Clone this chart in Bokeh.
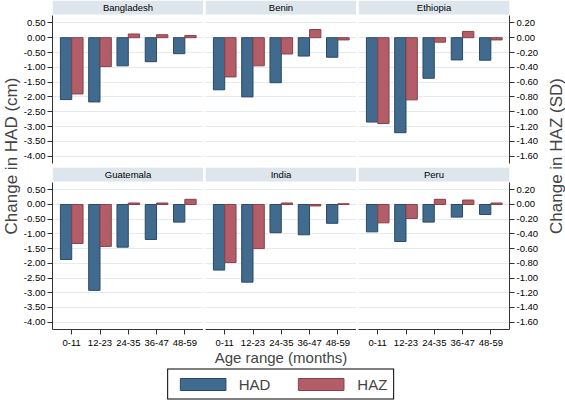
from bokeh.plotting import figure
from bokeh.models import (Range1d, LinearAxis, FixedTicker, BoxAnnotation, Label, Title,
                          Legend, LegendItem, GridBox, ColumnDataSource, Grid, PrintfTickFormatter)
from bokeh.transform import dodge
from bokeh.embed import file_html
from bokeh.resources import INLINE

# ---------------- data ----------------
COUNTRIES = ["Bangladesh", "Benin", "Ethiopia", "Guatemala", "India", "Peru"]
AGE_RANGES = ["0-11", "12-23", "24-35", "36-47", "48-59"]

HAD_BANGLADESH = [-2.09, -2.17, -0.95, -0.81, -0.54]
HAZ_BANGLADESH = [-0.76, -0.39, 0.05, 0.04, 0.03]
HAD_BENIN = [-1.76, -2.00, -1.52, -0.62, -0.66]
HAZ_BENIN = [-0.53, -0.38, -0.22, 0.11, -0.03]
HAD_ETHIOPIA = [-2.85, -3.21, -1.37, -0.75, -0.76]
HAZ_ETHIOPIA = [-1.16, -0.84, -0.06, 0.085, -0.03]
HAD_GUATEMALA = [-1.87, -2.92, -1.45, -1.19, -0.60]
HAZ_GUATEMALA = [-0.53, -0.57, 0.02, 0.02, 0.07]
HAD_INDIA = [-2.23, -2.64, -0.96, -1.03, -0.64]
HAZ_INDIA = [-0.79, -0.60, 0.02, -0.02, 0.01]
HAD_PERU = [-0.93, -1.26, -0.60, -0.43, -0.34]
HAZ_PERU = [-0.25, -0.19, 0.07, 0.06, 0.02]

HAD = [HAD_BANGLADESH, HAD_BENIN, HAD_ETHIOPIA, HAD_GUATEMALA, HAD_INDIA, HAD_PERU]
HAZ = [HAZ_BANGLADESH, HAZ_BENIN, HAZ_ETHIOPIA, HAZ_GUATEMALA, HAZ_INDIA, HAZ_PERU]

HAD_TICKS = [0.5, 0.0, -0.5, -1.0, -1.5, -2.0, -2.5, -3.0, -3.5, -4.0]
HAZ_TICKS = [0.2, 0.0, -0.2, -0.4, -0.6, -0.8, -1.0, -1.2, -1.4, -1.6]
CM_PER_SD = 2.5   # 0.50 cm on the left axis <-> 0.20 SD on the right axis

# ---------------- style / layout ----------------
FONT = "Liberation Sans"
BLUE, BLUE_LINE = "#406b8f", "#2b4966"
RED, RED_LINE = "#b25d67", "#884049"
STRIP = "#dce6ec"
GRID = "#e4ecf1"
AXIS = "#333333"

FW, PLOT_H, STRIP_H = 151, 148, 15
FH = PLOT_H + STRIP_H
AX_W_L, AX_W_R, GAP, LAB_W = 32, 36, 2, 20
BOT_TOP, BOT_BOTTOM = 4, 38
LEG_H = 32
LAB_H = 350

Y_LO, Y_PLOT_HI = -4.25, 0.75
PX_PER_CM = PLOT_H / (Y_PLOT_HI - Y_LO)
Y_HI = Y_PLOT_HI + STRIP_H / PX_PER_CM
STRIP_BOTTOM = Y_PLOT_HI + 1 / PX_PER_CM
X_LO, X_HI = -0.68, 4.66


def style_axis(ax):
    ax.axis_line_color = AXIS
    ax.major_tick_line_color = AXIS
    ax.minor_tick_line_color = None
    ax.major_tick_out = 5
    ax.major_tick_in = 0
    ax.major_label_standoff = 2
    ax.major_label_text_font = FONT
    ax.major_label_text_font_size = "9.5px"
    ax.major_label_text_color = "black"


def panel(k):
    row, col = divmod(k, 3)
    left = AX_W_L if col == 0 else GAP
    right = AX_W_R if col == 2 else 0
    bottom = BOT_BOTTOM if row == 1 else BOT_TOP
    p = figure(width=left + FW + right, height=FH + bottom,
               x_range=Range1d(X_LO, X_HI), y_range=Range1d(Y_LO, Y_HI),
               x_axis_location="below" if row == 1 else None,
               y_axis_location="left" if col == 0 else None,
               toolbar_location=None, output_backend="svg",
               min_border_left=left, min_border_right=right,
               min_border_top=0, min_border_bottom=bottom)
    p.outline_line_color = None
    p.background_fill_color = "white"
    p.border_fill_color = "white"
    p.xgrid.visible = False
    p.ygrid.visible = False
    p.add_layout(Grid(dimension=1, ticker=FixedTicker(ticks=HAD_TICKS),
                      grid_line_color=GRID, grid_line_width=1, level="underlay"))
    p.extra_y_ranges = {"haz": Range1d(Y_LO / CM_PER_SD, Y_HI / CM_PER_SD)}

    if col == 0:
        ax = p.yaxis[0]
        ax.ticker = FixedTicker(ticks=HAD_TICKS)
        ax.formatter = PrintfTickFormatter(format="%.2f")
        ax.bounds = (Y_LO, Y_PLOT_HI)
        style_axis(ax)
    if col == 2:
        rax = LinearAxis(y_range_name="haz", ticker=FixedTicker(ticks=HAZ_TICKS),
                         formatter=PrintfTickFormatter(format="%.2f"),
                         bounds=(Y_LO / CM_PER_SD, Y_PLOT_HI / CM_PER_SD))
        style_axis(rax)
        p.add_layout(rax, "right")
    if row == 1:
        xa = p.xaxis[0]
        xa.ticker = FixedTicker(ticks=list(range(len(AGE_RANGES))))
        xa.major_label_overrides = {i: lab for i, lab in enumerate(AGE_RANGES)}
        style_axis(xa)
        xa.major_label_standoff = 5
        if col == 1:
            xa.axis_label = "Age range (months)"
            xa.axis_label_text_font = FONT
            xa.axis_label_text_font_size = "15px"
            xa.axis_label_text_font_style = "normal"
            xa.axis_label_standoff = 0

    # strip header
    p.add_layout(BoxAnnotation(bottom=STRIP_BOTTOM, fill_color=STRIP, fill_alpha=1,
                               line_color=None, level="underlay"))
    p.add_layout(Label(x=(X_LO + X_HI) / 2, y=(STRIP_BOTTOM + Y_HI) / 2, text=COUNTRIES[k],
                       text_align="center", text_baseline="middle",
                       text_font=FONT, text_font_size="9.5px", text_font_style="normal",
                       text_color="black"))

    src = ColumnDataSource(dict(x=list(range(len(AGE_RANGES))), had=HAD[k], haz=HAZ[k]))
    p.vbar(x=dodge("x", -0.2), top="had", bottom=0, width=0.4, source=src,
           fill_color=BLUE, line_color=BLUE_LINE, line_width=1)
    p.vbar(x=dodge("x", 0.2), top="haz", bottom=0, width=0.4, source=src,
           y_range_name="haz", fill_color=RED, line_color=RED_LINE, line_width=1)
    return p


panels = [panel(k) for k in range(6)]


def side_label(text, height):
    p = figure(width=LAB_W, height=height, toolbar_location=None, output_backend="svg",
               x_axis_location=None, y_axis_location=None, min_border=0)
    p.outline_line_color = None
    p.xgrid.visible = False
    p.ygrid.visible = False
    p.add_layout(Title(text=text, align="center", text_font=FONT, text_font_size="17px",
                       text_font_style="normal", standoff=0, offset=0), "left")
    return p


left_lab = side_label("Change in HAD (cm)", LAB_H)
right_lab = side_label("Change in HAZ (SD)", LAB_H)

# legend (its swatches come from two off-screen proxy renderers)
leg_w = sum(p.width for p in panels[:3])
lp = figure(width=leg_w, height=LEG_H, toolbar_location=None, output_backend="svg",
            x_range=Range1d(0, 1), y_range=Range1d(0, 1),
            x_axis_location=None, y_axis_location=None, min_border=0)
lp.outline_line_color = None
lp.xgrid.visible = False
lp.ygrid.visible = False
r1 = lp.vbar(x=[-5], top=[-5], bottom=-6, width=0.4, fill_color=BLUE, line_color=BLUE_LINE)
r2 = lp.vbar(x=[-5], top=[-5], bottom=-6, width=0.4, fill_color=RED, line_color=RED_LINE)
legend = Legend(items=[LegendItem(label="HAD", renderers=[r1]),
                       LegendItem(label="HAZ", renderers=[r2])],
                orientation="horizontal", location="center",
                border_line_color="black", border_line_width=1, border_line_alpha=1,
                background_fill_color="white", background_fill_alpha=1,
                glyph_width=57, glyph_height=15, label_text_font=FONT,
                label_text_font_size="15px", padding=6, spacing=22,
                label_standoff=8, margin=0)
lp.add_layout(legend, "center")

children = [(left_lab, 0, 0, 2, 1), (right_lab, 0, 4, 2, 1), (lp, 2, 1, 1, 3)]
for k, p in enumerate(panels):
    r, c = divmod(k, 3)
    children.append((p, r, c + 1))

grid = GridBox(children=children, spacing=0)

open("out.html", "w").write(file_html(grid, INLINE))
